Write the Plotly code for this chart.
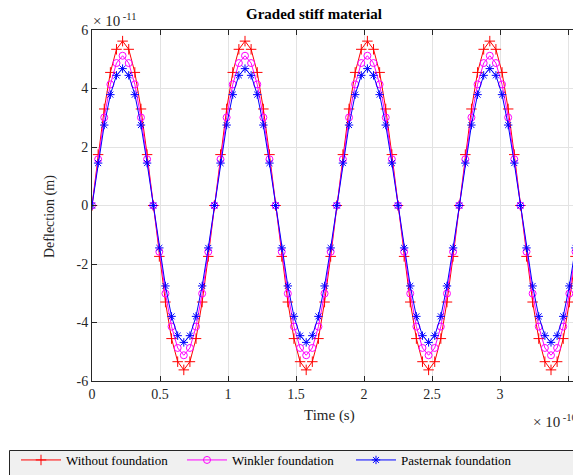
import plotly.graph_objects as go

# Time in units of 1e-10 s
time_e10 = [0, 0.045, 0.09, 0.135, 0.18, 0.225, 0.27, 0.315, 0.36, 0.405,
            0.45, 0.495, 0.54, 0.585, 0.63, 0.675, 0.72, 0.765, 0.81, 0.855,
            0.9, 0.945, 0.99, 1.035, 1.08, 1.125, 1.17, 1.215, 1.26, 1.305,
            1.35, 1.395, 1.44, 1.485, 1.53, 1.575, 1.62, 1.665, 1.71, 1.755,
            1.8, 1.845, 1.89, 1.935, 1.98, 2.025, 2.07, 2.115, 2.16, 2.205,
            2.25, 2.295, 2.34, 2.385, 2.43, 2.475, 2.52, 2.565, 2.61, 2.655,
            2.7, 2.745, 2.79, 2.835, 2.88, 2.925, 2.97, 3.015, 3.06, 3.105,
            3.15, 3.195, 3.24, 3.285, 3.33, 3.375, 3.42, 3.465, 3.51, 3.555,
            3.6]

# Deflection in units of 1e-11 m
without_found = [0, 1.74, 3.30, 4.55, 5.34, 5.62, 5.34, 4.55, 3.30, 1.74,
                 0, -1.74, -3.30, -4.55, -5.34, -5.62, -5.34, -4.55, -3.30, -1.74,
                 0, 1.74, 3.30, 4.55, 5.34, 5.62, 5.34, 4.55, 3.30, 1.74,
                 0, -1.74, -3.30, -4.55, -5.34, -5.62, -5.34, -4.55, -3.30, -1.74,
                 0, 1.74, 3.30, 4.55, 5.34, 5.62, 5.34, 4.55, 3.30, 1.74,
                 0, -1.74, -3.30, -4.55, -5.34, -5.62, -5.34, -4.55, -3.30, -1.74,
                 0, 1.74, 3.30, 4.55, 5.34, 5.62, 5.34, 4.55, 3.30, 1.74,
                 0, -1.74, -3.30, -4.55, -5.34, -5.62, -5.34, -4.55, -3.30, -1.74,
                 0]
winkler = [0, 1.58, 3.01, 4.14, 4.87, 5.12, 4.87, 4.14, 3.01, 1.58,
           0, -1.58, -3.01, -4.14, -4.87, -5.12, -4.87, -4.14, -3.01, -1.58,
           0, 1.58, 3.01, 4.14, 4.87, 5.12, 4.87, 4.14, 3.01, 1.58,
           0, -1.58, -3.01, -4.14, -4.87, -5.12, -4.87, -4.14, -3.01, -1.58,
           0, 1.58, 3.01, 4.14, 4.87, 5.12, 4.87, 4.14, 3.01, 1.58,
           0, -1.58, -3.01, -4.14, -4.87, -5.12, -4.87, -4.14, -3.01, -1.58,
           0, 1.58, 3.01, 4.14, 4.87, 5.12, 4.87, 4.14, 3.01, 1.58,
           0, -1.58, -3.01, -4.14, -4.87, -5.12, -4.87, -4.14, -3.01, -1.58,
           0]
pasternak = [0, 1.45, 2.75, 3.79, 4.45, 4.68, 4.45, 3.79, 2.75, 1.45,
             0, -1.45, -2.75, -3.79, -4.45, -4.68, -4.45, -3.79, -2.75, -1.45,
             0, 1.45, 2.75, 3.79, 4.45, 4.68, 4.45, 3.79, 2.75, 1.45,
             0, -1.45, -2.75, -3.79, -4.45, -4.68, -4.45, -3.79, -2.75, -1.45,
             0, 1.45, 2.75, 3.79, 4.45, 4.68, 4.45, 3.79, 2.75, 1.45,
             0, -1.45, -2.75, -3.79, -4.45, -4.68, -4.45, -3.79, -2.75, -1.45,
             0, 1.45, 2.75, 3.79, 4.45, 4.68, 4.45, 3.79, 2.75, 1.45,
             0, -1.45, -2.75, -3.79, -4.45, -4.68, -4.45, -3.79, -2.75, -1.45,
             0]

x_ticks = [0, 0.5, 1, 1.5, 2, 2.5, 3, 3.5]
x_tick_labels = ["0", "0.5", "1", "1.5", "2", "2.5", "3", "3.5"]
y_ticks = [-6, -4, -2, 0, 2, 4, 6]
y_tick_labels = ["-6", "-4", "-2", "0", "2", "4", "6"]

FONT = "Liberation Serif"
AX = "#262626"
GRID = "#e3e3e3"

W, H = 573, 475
L, T, B = 92, 30, 94
PW = W - L
PH = H - T - B


def px(x):
    return (x - L) / PW


def py(y):
    return (H - B - y) / PH


fig = go.Figure()
series = [
    ("Without foundation", without_found, "#ff0000", "cross-thin-open", 7.5, "legend"),
    ("Winkler foundation", winkler, "#ff00ff", "circle-open", 7, "legend2"),
    ("Pasternak foundation", pasternak, "#0000ff", "asterisk-open", 7, "legend3"),
]
for name, vals, col, sym, sz, lg in series:
    fig.add_trace(go.Scatter(
        x=time_e10, y=vals, name=name, mode="lines+markers", legend=lg,
        line=dict(color=col, width=1),
        marker=dict(symbol=sym, size=sz, color=col, line=dict(color=col, width=1)),
    ))

# invisible trace to activate the top mirror axis
fig.add_trace(go.Scatter(x=[0], y=[0], xaxis="x2", mode="markers",
                         marker=dict(opacity=0), showlegend=False, hoverinfo="skip"))


def legend_at(xpix):
    return dict(orientation="h", xref="container", yref="container",
                x=xpix / W, y=1 - 445 / H, xanchor="left", yanchor="top",
                bgcolor="rgba(0,0,0,0)", borderwidth=0, itemwidth=40,
                font=dict(size=13, family=FONT, color="#000000"))


xr = [0, PW / 136.0]
fig.update_layout(
    width=W, height=H,
    margin=dict(l=L, r=0, t=T, b=B, autoexpand=False),
    paper_bgcolor="white", plot_bgcolor="white",
    font=dict(family=FONT, size=13, color=AX),
    showlegend=True,
    xaxis=dict(range=xr, tickvals=x_ticks, ticktext=x_tick_labels,
               ticks="inside", ticklen=5, tickcolor=AX, showline=True,
               linecolor=AX, linewidth=1, showgrid=True, gridcolor=GRID,
               zeroline=False, tickfont=dict(size=14, family=FONT, color=AX)),
    xaxis2=dict(range=xr, overlaying="x", side="top", tickvals=x_ticks,
                ticks="inside", ticklen=5, tickcolor=AX, showticklabels=False,
                showline=True, linecolor=AX, linewidth=1, showgrid=False,
                zeroline=False),
    yaxis=dict(range=[-6, 6], tickvals=y_ticks, ticktext=y_tick_labels,
               ticks="inside", ticklen=5, tickcolor=AX, showline=True,
               linecolor=AX, linewidth=1, showgrid=True, gridcolor=GRID,
               zeroline=False, tickfont=dict(size=14, family=FONT, color=AX)),
    legend=legend_at(16),
    legend2=legend_at(182),
    legend3=legend_at(351),
)

fig.add_shape(type="rect", xref="paper", yref="paper",
              x0=px(9.5), x1=px(600), y0=py(495), y1=py(450.5),
              fillcolor="#f0f0f0", line=dict(color=AX, width=1), layer="below")

fig.add_annotation(text="<b>Graded stiff material</b>", xref="paper", yref="paper",
                   x=px(314), y=py(14), xanchor="center", yanchor="middle",
                   showarrow=False, font=dict(size=15, family=FONT, color="#000000"))
fig.add_annotation(text="Deflection (m)", xref="paper", yref="paper",
                   x=px(50), y=py(217), xanchor="center", yanchor="middle",
                   textangle=-90, showarrow=False,
                   font=dict(size=14, family=FONT, color=AX))
fig.add_annotation(text="Time (s)", xref="paper", yref="paper",
                   x=px(329), y=py(415), xanchor="center", yanchor="middle",
                   showarrow=False, font=dict(size=15, family=FONT, color=AX))
fig.add_annotation(text="\u00d7 10<sup> -11</sup>", xref="paper", yref="paper",
                   x=px(91), y=py(31), xanchor="left", yanchor="bottom",
                   showarrow=False, font=dict(size=15, family=FONT, color=AX))
fig.add_annotation(text="\u00d7 10<sup> -10</sup>", xref="paper", yref="paper",
                   x=px(531), y=py(410), xanchor="left", yanchor="top",
                   showarrow=False, font=dict(size=15, family=FONT, color=AX))

fig.write_html("out.html")
